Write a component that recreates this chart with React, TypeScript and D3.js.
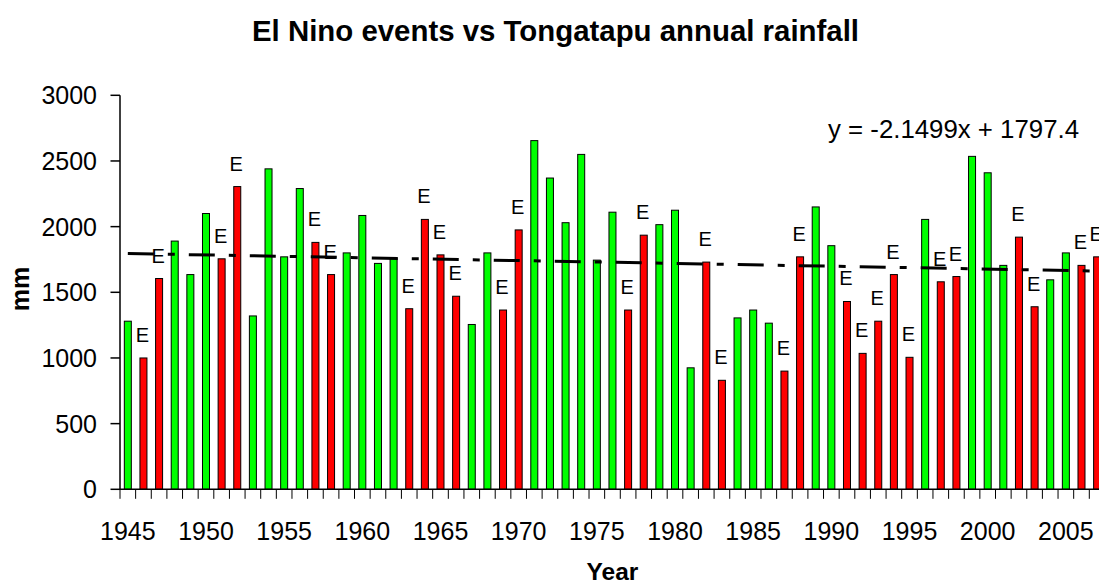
import React from "react";
import * as d3 from "d3";

const years: number[] = [
  1945, 1946, 1947, 1948, 1949, 1950, 1951, 1952, 1953, 1954,
  1955, 1956, 1957, 1958, 1959, 1960, 1961, 1962, 1963, 1964,
  1965, 1966, 1967, 1968, 1969, 1970, 1971, 1972, 1973, 1974,
  1975, 1976, 1977, 1978, 1979, 1980, 1981, 1982, 1983, 1984,
  1985, 1986, 1987, 1988, 1989, 1990, 1991, 1992, 1993, 1994,
  1995, 1996, 1997, 1998, 1999, 2000, 2001, 2002, 2003, 2004,
  2005, 2006, 2007,
];

const rainfall: number[] = [
  1280, 1000, 1605, 1890, 1635, 2100, 1755, 2305, 1320, 2440,
  1770, 2290, 1880, 1635, 1800, 2085, 1720, 1760, 1375, 2055,
  1785, 1470, 1255, 1800, 1365, 1975, 2655, 2370, 2030, 2550,
  1745, 2110, 1365, 1935, 2015, 2125, 925, 1730, 830, 1305,
  1365, 1265, 900, 1770, 2150, 1855, 1430, 1035, 1280, 1635,
  1005, 2055, 1580, 1620, 2535, 2410, 1705, 1920, 1390, 1595,
  1800, 1705, 1770,
];

const elNinoYears: number[] = [
  1946, 1947, 1951, 1952, 1957, 1958, 1963, 1964, 1965, 1966,
  1969, 1970, 1977, 1978, 1982, 1983, 1987, 1988, 1991, 1992,
  1993, 1994, 1995, 1997, 1998, 2002, 2003, 2006, 2007,
];

const yTicks: number[] = [0, 500, 1000, 1500, 2000, 2500, 3000];
const xTickLabels: number[] = [1945, 1950, 1955, 1960, 1965, 1970, 1975, 1980, 1985, 1990, 1995, 2000, 2005];

const trendSlope = -2.1499;
const trendIntercept = 1797.4;

const titleText = "El Nino events vs Tongatapu annual rainfall";
const equationText = "y = -2.1499x + 1797.4";

export default function App() {
  const W = 1099;
  const H = 586;
  const left = 120;
  const step = 15.634;
  const right = left + years.length * step;
  const y0 = 489.3;
  const yTop = 95.3;
  const font = "'Liberation Sans', Arial, Helvetica, sans-serif";

  const x = d3.scaleBand<number>().domain(years).range([left, right]).padding(0);
  const y = d3.scaleLinear().domain([0, 3000]).range([y0, yTop]);
  const barW = 7;
  const center = (yr: number) => (x(yr) as number) + x.bandwidth() / 2;

  const trendLine = d3
    .line<number>()
    .x((i) => center(years[i - 1]))
    .y((i) => y(trendSlope * i + trendIntercept));
  const trendPath = trendLine([1, years.length]) || "";

  const boundaries = years.map((yr) => x(yr) as number).concat([right]);

  return (
    <svg
      width={W}
      height={H}
      style={{ position: "absolute", left: 0, top: 0, background: "#fff" }}
      fontFamily={font}
    >
      <rect x={0} y={0} width={W} height={H} fill="#fff" />
      <text x={555.5} y={41} textAnchor="middle" fontSize={29.4} fontWeight="bold" fill="#000">
        {titleText}
      </text>

      {/* bars */}
      {years.map((yr, i) => {
        const v = rainfall[i];
        const isE = elNinoYears.includes(yr);
        const cx = center(yr);
        return (
          <g key={yr}>
            <rect
              x={cx - barW / 2}
              y={y(v)}
              width={barW}
              height={y0 - y(v)}
              fill={isE ? "#FF0000" : "#00FF00"}
              stroke="#000"
              strokeWidth={1}
            />
            {isE && (
              <text x={cx - 1} y={y(v) - 16} textAnchor="middle" fontSize={20} fill="#000">
                E
              </text>
            )}
          </g>
        );
      })}

      {/* trendline */}
      <path
        d={trendPath}
        fill="none"
        stroke="#000"
        strokeWidth={3}
        strokeDasharray="26,14,7,14"
      />

      {/* y axis */}
      <line x1={left} x2={left} y1={yTop} y2={y0} stroke="#000" strokeWidth={1.5} />
      {yTicks.map((t) => (
        <g key={t}>
          <line x1={left - 9.5} x2={left} y1={y(t)} y2={y(t)} stroke="#000" strokeWidth={1.5} />
          <text x={97} y={y(t)} dy="0.36em" textAnchor="end" fontSize={25} fill="#000">
            {t}
          </text>
        </g>
      ))}

      {/* x axis */}
      <line x1={left} x2={right} y1={y0} y2={y0} stroke="#000" strokeWidth={1.5} />
      {boundaries.map((b, i) => (
        <line key={i} x1={b} x2={b} y1={y0} y2={y0 + 9.5} stroke="#000" strokeWidth={1} />
      ))}
      {xTickLabels.map((yr) => (
        <text key={yr} x={center(yr)} y={540} textAnchor="middle" fontSize={25} fill="#000">
          {yr}
        </text>
      ))}

      <text x={(left + right) / 2} y={579.5} textAnchor="middle" fontSize={24.5} fontWeight="bold" fill="#000">
        Year
      </text>
      <text
        transform={`translate(28.5,289) rotate(-90)`}
        textAnchor="middle"
        fontSize={25}
        fontWeight="bold"
        fill="#000"
      >
        mm
      </text>

      <text x={828} y={138} fontSize={25.8} fill="#000">
        {equationText}
      </text>
    </svg>
  );
}
